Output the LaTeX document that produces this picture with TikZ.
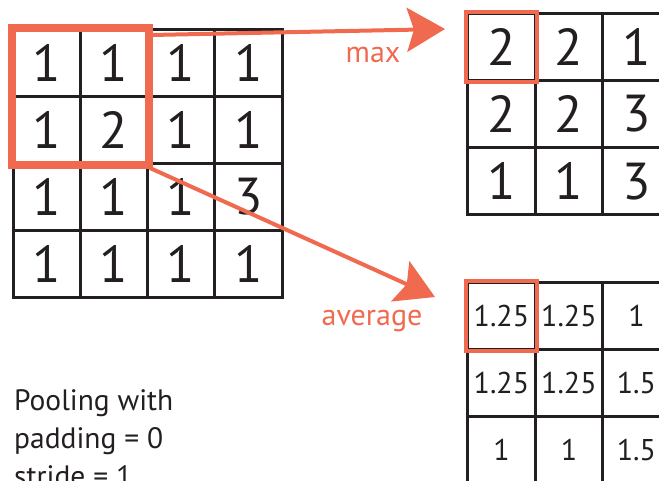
\documentclass[tikz,border=0pt]{standalone}
\usepackage{fontspec}
\setmainfont{PT Sans}
\usetikzlibrary{arrows.meta}
\definecolor{ink}{HTML}{231F20}
\definecolor{hl}{RGB}{240,106,79}
\begin{document}
\begin{tikzpicture}[x=1pt,y=-1pt,
  bigcell/.style={draw=ink,line width=3pt,minimum width=67.25pt,minimum height=67pt,inner sep=0pt,text=ink,font=\fontsize{52}{52}\selectfont},
  rcell/.style={draw=ink,line width=3pt,minimum width=67.5pt,minimum height=67.3pt,inner sep=0pt,text=ink,font=\fontsize{52}{52}\selectfont},
  scell/.style={draw=ink,line width=3pt,minimum width=67.5pt,minimum height=67pt,inner sep=0pt,text=ink,font=\fontsize{30}{30}\selectfont},
  hlbox/.style={draw=hl,line width=#1},
  hlarrow/.style={draw=hl,line width=4pt,-{Stealth[length=38pt,width=44pt,inset=7pt]}},
  hllabel/.style={text=hl,font=\fontsize{30}{30}\selectfont,anchor=base,inner sep=0pt},
  note/.style={text=ink,font=\fontsize{29.5}{29.5}\selectfont,anchor=base west,inner sep=0pt}]
\useasboundingbox (0,0) rectangle (659,480);
\clip (0,0) rectangle (659,480);
% input grid
\foreach \v [count=\i from 0] in {1,1,1,1, 1,2,1,1, 1,1,1,3, 1,1,1,1}{
  \pgfmathtruncatemacro\r{div(\i,4)+1}
  \pgfmathtruncatemacro\c{mod(\i,4)+1}
  \node[bigcell] (a\r\c) at ({13+67.25*(\c-0.5)},{29+67*(\r-0.5)}) {\v};
}
% max grid
\foreach \v [count=\i from 0] in {2,2,1, 2,2,3, 1,1,3}{
  \pgfmathtruncatemacro\r{div(\i,3)+1}
  \pgfmathtruncatemacro\c{mod(\i,3)+1}
  \node[rcell] (b\r\c) at ({467.7+67.5*(\c-0.5)},{13+67.3*(\r-0.5)}) {\v};
}
% average grid
\foreach \v [count=\i from 0] in {1.25,1.25,1, 1.25,1.25,1.5, 1,1,\raisebox{-2pt}{1.5}}{
  \pgfmathtruncatemacro\r{div(\i,3)+1}
  \pgfmathtruncatemacro\c{mod(\i,3)+1}
  \node[scell] (c\r\c) at ({467.7+67.5*(\c-0.5)},{282+67*(\r-0.5)}) {\v};
}
% highlight boxes
\draw[hlbox=8pt] (a11.north west) rectangle (a22.south east);
\draw[hlbox=4pt] (b11.north west) rectangle (b11.south east);
\draw[hlbox=4pt] (c11.north west) rectangle (c11.south east);
% arrows
\coordinate (maxstart) at (151,35);
\coordinate (maxend) at (445,29);
\coordinate (avgstart) at (150,168);
\coordinate (avgend) at (435,297);
\draw[hlarrow] (maxstart) -- (maxend);
\draw[hlarrow] (avgstart) -- (avgend);
\node[hllabel] (maxlabel) at (373,62) {max};
\node[hllabel] (avglabel) at (372,325) {average};
% note
\node[note] (n1) at (14,410) {Pooling with};
\node[note] (n2) at (14,448) {padding = 0};
\node[note] (n3) at (14,486) {stride = 1};
\end{tikzpicture}
\end{document}
